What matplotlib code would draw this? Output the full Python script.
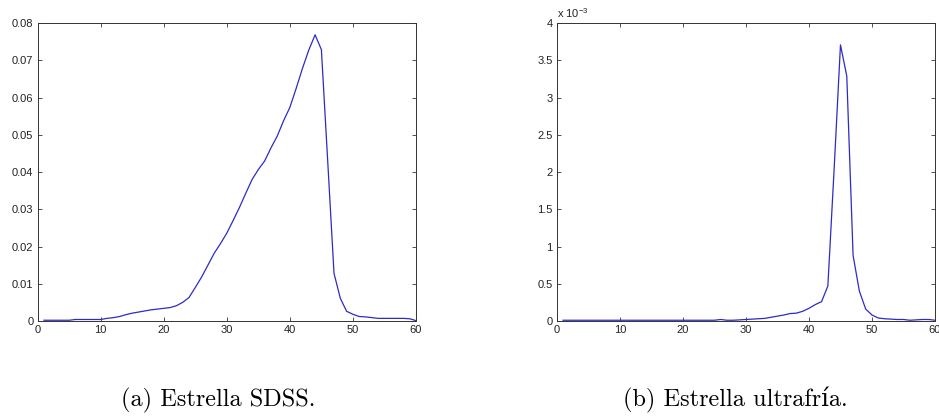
import matplotlib
matplotlib.use('Agg')
import matplotlib.pyplot as plt
import numpy as np
from matplotlib.ticker import FuncFormatter, MultipleLocator

plt.rcParams['font.family'] = ['Liberation Sans', 'DejaVu Sans']
plt.rcParams['mathtext.fontset'] = 'custom'
plt.rcParams['mathtext.rm'] = 'Liberation Sans'
plt.rcParams['mathtext.it'] = 'Liberation Sans:italic'

# bins 1..60
bins = np.arange(1, 61)

# SDSS star profile
sdss = [0.0002, 0.0002, 0.0002, 0.0002, 0.0002, 0.0004, 0.0004, 0.0004, 0.0004, 0.0004,
        0.0007, 0.0009, 0.0012, 0.0017, 0.0021, 0.0024, 0.0027, 0.0030, 0.0032, 0.0034,
        0.0036, 0.0041, 0.0050, 0.0063, 0.0090, 0.0118, 0.0150, 0.0182, 0.0208, 0.0236,
        0.0270, 0.0305, 0.0343, 0.0380, 0.0407, 0.0430, 0.0465, 0.0497, 0.0538, 0.0574,
        0.0625, 0.0679, 0.0728, 0.0769, 0.0729, 0.0430, 0.0128, 0.0061, 0.0026, 0.0018,
        0.0012, 0.0011, 0.0009, 0.0007, 0.0007, 0.0007, 0.0007, 0.0007, 0.0006, 0.0001]

# ultracool star profile (values in units of 1e-3)
ultracool_e3 = [0.01, 0.01, 0.01, 0.01, 0.01, 0.01, 0.01, 0.01, 0.01, 0.01,
                0.01, 0.01, 0.01, 0.01, 0.01, 0.01, 0.01, 0.01, 0.01, 0.01,
                0.01, 0.01, 0.01, 0.01, 0.01, 0.02, 0.01, 0.01, 0.015, 0.02,
                0.025, 0.03, 0.035, 0.05, 0.065, 0.08, 0.10, 0.105, 0.13, 0.17,
                0.22, 0.26, 0.47, 2.05, 3.71, 3.29, 0.88, 0.40, 0.16, 0.08,
                0.04, 0.03, 0.025, 0.02, 0.02, 0.01, 0.015, 0.02, 0.02, 0.01]
ultracool = np.array(ultracool_e3) * 1e-3

captions = ['(a) Estrella SDSS.', '(b) Estrella ultrafría.']

line_color = '#2c2cc4'
text_color = '#222222'

fig = plt.figure(figsize=(9.39, 4.18), dpi=100)
ax1 = fig.add_axes([0.0401, 0.2321, 0.4029, 0.7122])
ax2 = fig.add_axes([0.5929, 0.2321, 0.4029, 0.7122])


def style_axes(ax):
    ax.set_xlim(0, 60)
    ax.xaxis.set_major_locator(MultipleLocator(10))
    ax.tick_params(direction='in', top=True, right=True, length=3, width=0.6,
                   labelsize=8, labelcolor=text_color, color='#333333', pad=3)
    for s in ax.spines.values():
        s.set_linewidth(0.7)
        s.set_color('#333333')


ax1.plot(bins, sdss, color=line_color, lw=0.9)
style_axes(ax1)
ax1.set_ylim(0, 0.08)
ax1.yaxis.set_major_locator(MultipleLocator(0.01))
ax1.yaxis.set_major_formatter(FuncFormatter(lambda v, p: '%g' % round(v, 4)))

ax2.plot(bins, ultracool, color=line_color, lw=0.9)
style_axes(ax2)
ax2.set_ylim(0, 4e-3)
ax2.yaxis.set_major_locator(MultipleLocator(0.5e-3))
ax2.yaxis.set_major_formatter(FuncFormatter(lambda v, p: '%g' % round(v * 1e3, 3)))
ax2.text(0.0, 1.012, r'x 10$^{-3}$', transform=ax2.transAxes, fontsize=8,
         color=text_color, ha='left', va='bottom')

cap_font = dict(family=['cmr10', 'DejaVu Serif'], fontsize=17.5, color='black',
                ha='center', va='center')
fig.text(218 / 939, 1 - 400 / 418, captions[0], **cap_font)
fig.text(735 / 939, 1 - 400 / 418, captions[1], **cap_font)

fig.savefig('out.png', dpi=100)
